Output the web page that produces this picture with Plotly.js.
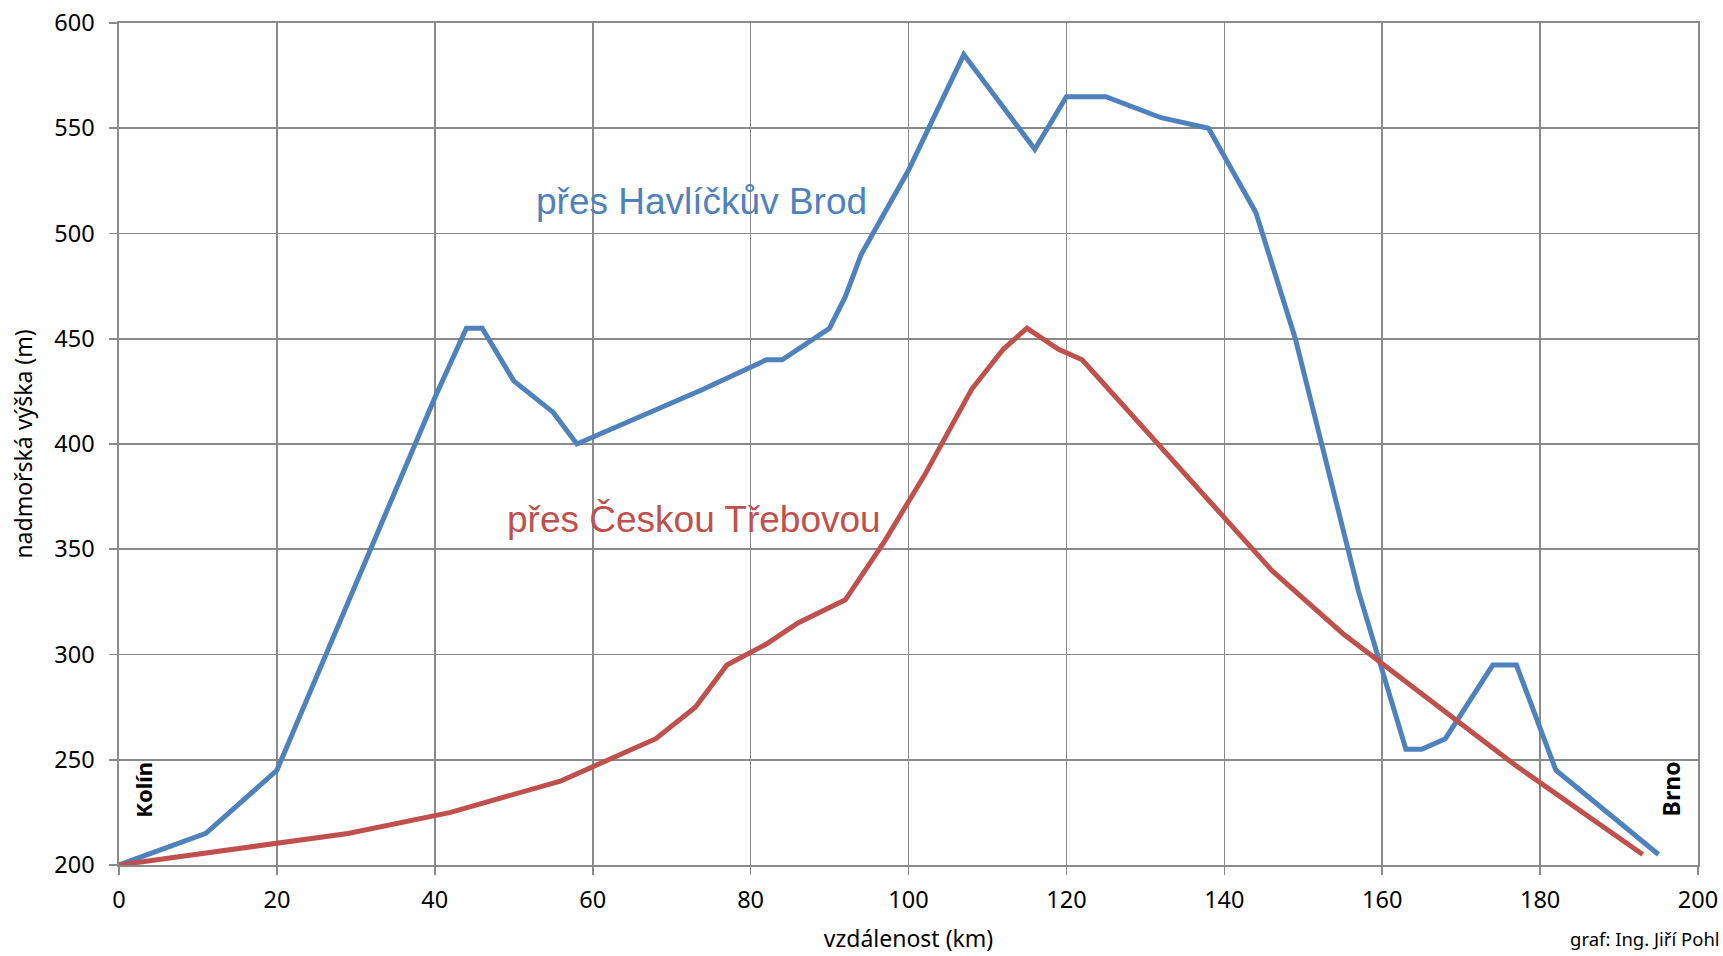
<!DOCTYPE html>
<html>
<head>
<meta charset="utf-8">
<script src="https://cdn.plot.ly/plotly-3.0.1.min.js"></script>
<style>
html, body { margin: 0; padding: 0; background: #ffffff; }
#chart { width: 1723px; height: 956px; }
</style>
</head>
<body>
<div id="chart"></div>
<script>
// Route via Havlíčkův Brod (distance km, altitude m)
const havlickuvBrodKm = [0, 11, 20, 29, 40, 44, 46, 50, 55, 58, 74, 82, 84, 90, 92, 94, 100, 107, 116, 120, 125, 132, 138, 144, 149, 157, 163, 165, 168, 174, 177, 182, 195];
const havlickuvBrodM  = [200, 215, 245, 325, 422, 455, 455, 430, 415, 400, 426, 440, 440, 455, 470, 490, 530, 585, 540, 565, 565, 555, 550, 510, 450, 330, 255, 255, 260, 295, 295, 245, 205];

// Route via Česká Třebová
const ceskaTrebovaKm = [0, 10, 20, 29, 42, 56, 68, 73, 77, 82, 86, 92, 97, 102, 108, 112, 115, 119, 122, 137, 146, 155, 177, 193];
const ceskaTrebovaM  = [200, 205, 210, 215, 225, 240, 260, 275, 295, 305, 315, 326, 354, 385, 426, 445, 455, 445, 440, 378, 340, 310, 247, 205];

const xTicks = [0, 20, 40, 60, 80, 100, 120, 140, 160, 180, 200];
const yTicks = [200, 250, 300, 350, 400, 450, 500, 550, 600];

const seriesNames = ['přes Havlíčkův Brod', 'přes Českou Třebovou'];
const cityLabels = ['Kolín', 'Brno'];
const xTitle = 'vzdálenost (km)';
const yTitle = 'nadmořská výška (m)';
const credit = 'graf: Ing. Jiří Pohl';

const BLUE = '#4f81bd';
const RED = '#c0504d';
const GRID = '#8a8a8a';
const FONT = '"Noto Sans", "Open Sans", sans-serif';

const traces = [
  { x: havlickuvBrodKm, y: havlickuvBrodM, type: 'scatter', mode: 'lines', name: seriesNames[0],
    line: { color: BLUE, width: 5, shape: 'linear' }, hoverinfo: 'x+y' },
  { x: ceskaTrebovaKm, y: ceskaTrebovaM, type: 'scatter', mode: 'lines', name: seriesNames[1],
    line: { color: RED, width: 5, shape: 'linear' }, hoverinfo: 'x+y' }
];

const layout = {
  width: 1723, height: 956,
  margin: { l: 119, r: 25, t: 23, b: 91, pad: 0 },
  paper_bgcolor: '#ffffff', plot_bgcolor: '#ffffff',
  showlegend: false,
  font: { family: FONT, color: '#000000', size: 23 },
  xaxis: {
    range: [0, 200], tickvals: xTicks, ticktext: xTicks.map(String),
    showgrid: true, gridcolor: GRID, gridwidth: 1.6,
    zeroline: false, showline: true, linecolor: GRID, linewidth: 1.6, mirror: true,
    ticks: 'outside', ticklen: 8, tickcolor: GRID, tickwidth: 1.6,
    tickfont: { family: FONT, size: 23.5, color: '#000000' },
    ticklabelstandoff: 5,
    title: { text: xTitle, font: { family: FONT, size: 23, color: '#000000' }, standoff: 17 },
    fixedrange: true
  },
  yaxis: {
    range: [200, 600], tickvals: yTicks, ticktext: yTicks.map(String),
    showgrid: true, gridcolor: GRID, gridwidth: 1.6,
    zeroline: false, showline: true, linecolor: GRID, linewidth: 1.6, mirror: true,
    ticks: 'outside', ticklen: 8, tickcolor: GRID, tickwidth: 1.6,
    tickfont: { family: FONT, size: 23.5, color: '#000000' },
    ticklabelstandoff: 10,
    title: { text: yTitle, font: { family: FONT, size: 23, color: '#000000' }, standoff: 15 },
    fixedrange: true
  },
  annotations: [
    { x: 73.8, y: 515, xref: 'x', yref: 'y', text: seriesNames[0], showarrow: false,
      font: { family: '"Liberation Sans", Arial, sans-serif', size: 37, color: BLUE } },
    { x: 72.8, y: 364, xref: 'x', yref: 'y', text: seriesNames[1], showarrow: false,
      font: { family: '"Liberation Sans", Arial, sans-serif', size: 37, color: RED } },
    { x: 3.1, y: 236, xref: 'x', yref: 'y', text: '<b>' + cityLabels[0] + '</b>', showarrow: false, textangle: -90,
      font: { family: FONT, size: 22, color: '#000000' } },
    { x: 196.6, y: 236, xref: 'x', yref: 'y', text: '<b>' + cityLabels[1] + '</b>', showarrow: false, textangle: -90,
      font: { family: FONT, size: 23, color: '#000000' } },
    { x: 1722, y: 938, xref: 'paper', yref: 'paper', text: credit, showarrow: false,
      xanchor: 'right', yanchor: 'middle',
      font: { family: FONT, size: 18.5, color: '#000000' } }
  ]
};
// credit is positioned in pixels, converted to paper fraction
(function () {
  const plotW = layout.width - layout.margin.l - layout.margin.r;
  const plotH = layout.height - layout.margin.t - layout.margin.b;
  const a = layout.annotations[4];
  a.x = (1722 - layout.margin.l) / plotW;
  a.y = (layout.height - layout.margin.b - 938) / plotH;
})();

Plotly.newPlot('chart', traces, layout, { displayModeBar: false, staticPlot: true });
</script>
</body>
</html>
